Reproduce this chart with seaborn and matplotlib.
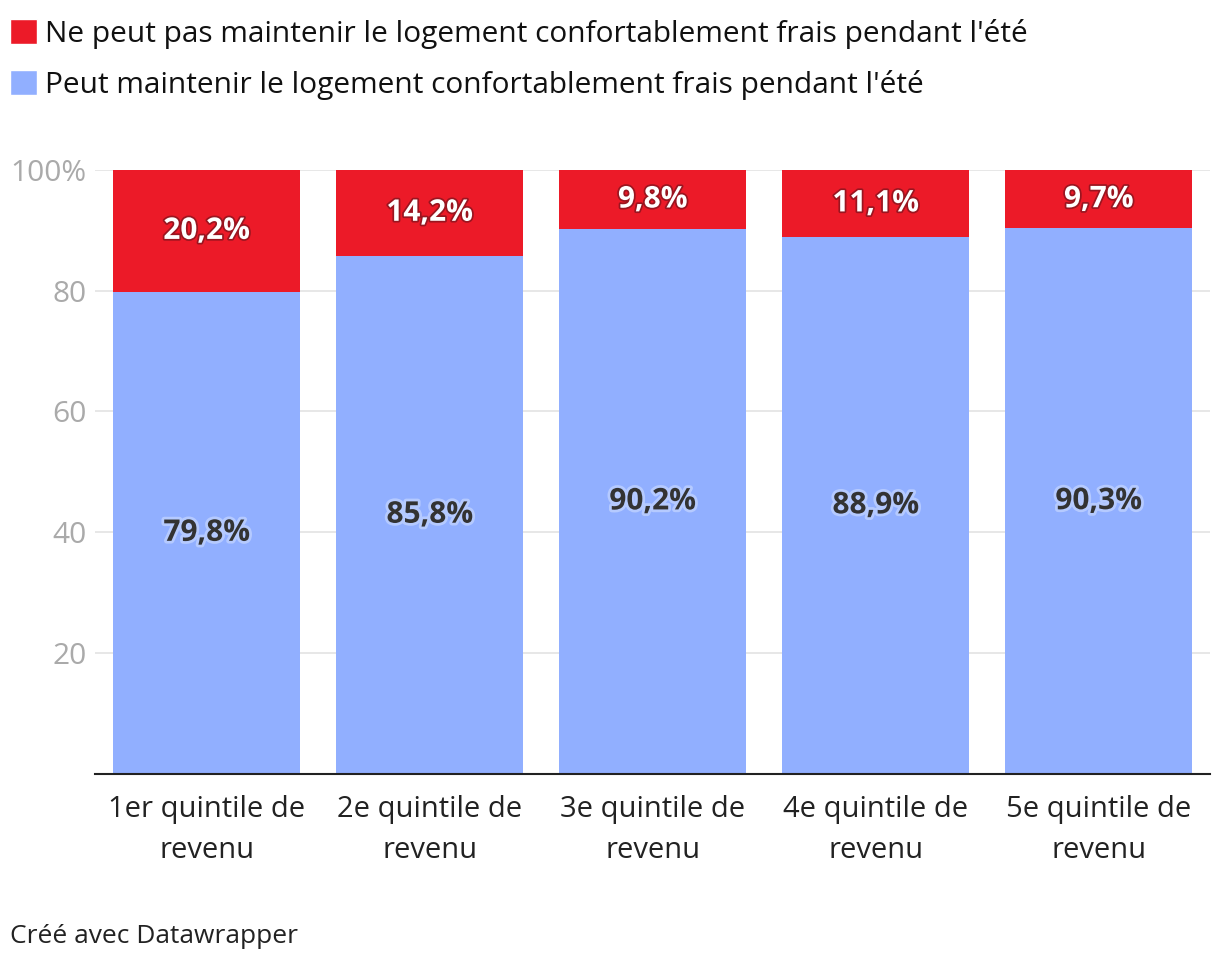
import matplotlib
matplotlib.use("Agg")
import matplotlib.pyplot as plt
import matplotlib.patheffects as pe
from matplotlib.patches import Patch
import seaborn as sns
import pandas as pd

# data
categories = ["1er quintile de\nrevenu", "2e quintile de\nrevenu", "3e quintile de\nrevenu",
              "4e quintile de\nrevenu", "5e quintile de\nrevenu"]
peut = [79.8, 85.8, 90.2, 88.9, 90.3]
ne_peut_pas = [20.2, 14.2, 9.8, 11.1, 9.7]
label_red = "Ne peut pas maintenir le logement confortablement frais pendant l'été"
label_blue = "Peut maintenir le logement confortablement frais pendant l'été"

RED = "#EC1A28"
BLUE = "#91AFFF"

sns.set_theme(style="white")
plt.rcParams["font.family"] = ["Open Sans", "DejaVu Sans"]

df = pd.DataFrame({"cat": categories, "peut": peut, "ne": ne_peut_pas})
df["total"] = df["peut"] + df["ne"]

fig = plt.figure(figsize=(12.2, 9.6), dpi=100)
ax = fig.add_axes([0.078, 0.194, 0.914, 0.629])

# stacked: full-height red underneath, blue on top from 0
sns.barplot(data=df, x="cat", y="total", color=RED, width=0.84, saturation=1,
            linewidth=0, ax=ax, zorder=2)
sns.barplot(data=df, x="cat", y="peut", color=BLUE, width=0.84, saturation=1,
            linewidth=0, ax=ax, zorder=3)

for i, row in df.iterrows():
    ax.text(i, row["peut"] / 2, f"{row['peut']:.1f}%".replace(".", ","),
            ha="center", va="center", fontsize=21.5, fontweight="bold", color="#333333", zorder=5,
            path_effects=[pe.withStroke(linewidth=4, foreground="#B5CAFF")])
    ax.text(i, row["peut"] + row["ne"] / 2, f"{row['ne']:.1f}%".replace(".", ","),
            ha="center", va="center", fontsize=21.5, fontweight="bold", color="white", zorder=5,
            path_effects=[pe.withStroke(linewidth=2.5, foreground="#9A1520")])

ax.set_xlim(-0.5, 4.5)
ax.set_ylim(0, 100)
ax.set_yticks([20, 40, 60, 80, 100])
ax.set_yticklabels(["20", "40", "60", "80", "100%"], color="#AAAAAA", fontsize=21.5)
ax.tick_params(axis="y", length=0, pad=6)
ax.tick_params(axis="x", length=0, pad=15, labelsize=21, labelcolor="#222222")
for t in ax.get_xticklabels():
    t.set_linespacing(1.55)
ax.yaxis.grid(True, color="#E3E3E3", linewidth=1.2, zorder=0)
ax.set_axisbelow(True)
ax.set_xlabel("")
ax.set_ylabel("")
for s in ["left", "right", "top"]:
    ax.spines[s].set_visible(False)
ax.spines["bottom"].set_color("#222222")
ax.spines["bottom"].set_linewidth(1.5)
ax.spines["bottom"].set_zorder(6)

handles = [Patch(facecolor=RED, label=label_red), Patch(facecolor=BLUE, label=label_blue)]
fig.legend(handles=handles, loc="upper left", bbox_to_anchor=(0.008, 0.98), frameon=False,
           fontsize=21.5, handlelength=0.92, handleheight=0.92, handletextpad=0.27,
           labelspacing=0.7, borderaxespad=0, borderpad=0, labelcolor="#111111")

fig.text(0.008, 0.018, "Créé avec Datawrapper", fontsize=19, color="#222222")

fig.savefig("out.png", dpi=100)
